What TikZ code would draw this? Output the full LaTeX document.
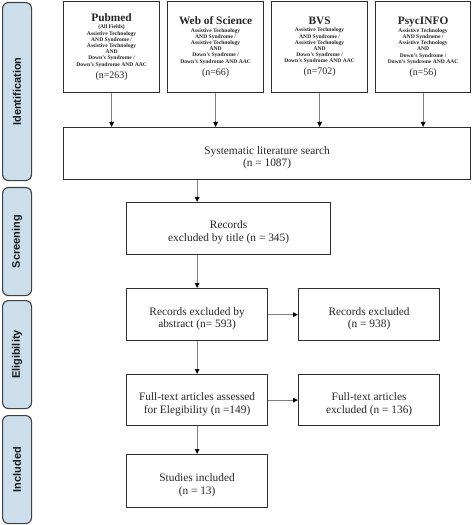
\documentclass[tikz,border=0pt]{standalone}
\usepackage{fontspec}
\setmainfont{Liberation Serif}
\newfontfamily\sidefont{Liberation Sans}
\usetikzlibrary{arrows.meta}
\definecolor{sidefill}{HTML}{CCDEEC}
\definecolor{boxline}{HTML}{2E2E2E}
\definecolor{arrline}{HTML}{808080}
\begin{document}
\begin{tikzpicture}[x=1bp,y=-1bp,
  box/.style={draw=boxline,line width=1.2bp,fill=white,inner sep=1bp,align=center,anchor=north west,
    font=\fontsize{11.4}{12.8}\selectfont,text=black!85},
  dbbox/.style={draw=boxline,line width=1.2bp,fill=white,inner sep=1bp,align=center,anchor=north west,
    font=\bfseries\fontsize{5.6}{6.2}\selectfont,text=black!85},
  side/.style={draw=black!75,line width=1.1bp,fill=sidefill,rounded corners=6bp,anchor=north west,
    minimum width=29bp,inner sep=0pt},
  sidelabel/.style={rotate=90,font=\sidefont\bfseries\fontsize{11}{12}\selectfont,text=black!90},
  arr/.style={draw=arrline,line width=1bp,-{Triangle[color=black,length=5bp,width=4.5bp]}},
]
\useasboundingbox (0,0) rectangle (472,525);
\newcommand{\dbtitle}[1]{{\fontsize{11.4}{12.5}\selectfont #1}\\[1bp]}
\newcommand{\dbcount}[1]{\\[3bp]{\mdseries\fontsize{10}{11}\selectfont #1}}
\newcommand{\lowtext}{\rule{0pt}{16bp}}

% side labels
\node[side,minimum height=178bp] (sid) at (2,2) {};
\node[sidelabel] (sidt) at (sid.center) {Identification};
\node[side,minimum height=108bp] (sscr) at (2,187) {};
\node[sidelabel] (sscrt) at (sscr.center) {Screening};
\node[side,minimum height=108bp] (seli) at (2,300) {};
\node[sidelabel] (selit) at (seli.center) {Eligibility};
\node[side,minimum height=108bp] (sinc) at (2,415) {};
\node[sidelabel] (sinct) at (sinc.center) {Included};

% database boxes
\node[dbbox,minimum width=96bp,minimum height=91bp] (pub) at (63,1)
  {\dbtitle{Pubmed}(All Fields)\\Assistive Technology\\AND Syndrome /\\Assistive Technology\\AND\\Down's Syndrome /\\Down's Syndrome AND AAC\dbcount{(n=263)}};
\node[dbbox,minimum width=96bp,minimum height=91bp] (wos) at (167,1)
  {\dbtitle{Web of Science}Assistive Technology\\AND Syndrome /\\Assistive Technology\\AND\\Down's Syndrome /\\Down's Syndrome AND AAC\dbcount{(n=66)}};
\node[dbbox,minimum width=96bp,minimum height=91bp] (bvs) at (271,1)
  {\dbtitle{BVS}Assistive Technology\\AND Syndrome /\\Assistive Technology\\AND\\Down's Syndrome /\\Down's Syndrome AND AAC\dbcount{(n=702)}};
\node[dbbox,minimum width=95bp,minimum height=91bp] (psy) at (375,1)
  {\dbtitle{PsycINFO}Assistive Technology\\AND Syndrome /\\Assistive Technology\\AND\\Down's Syndrome /\\Down's Syndrome AND AAC\dbcount{(n=56)}};

% flow boxes
\node[box,minimum width=407bp,minimum height=52bp] (sls) at (63,127) {\lowtext Systematic literature search\\(n = 1087)};
\node[box,minimum width=204bp,minimum height=52bp] (rec) at (126,202) {\lowtext Records\\excluded by title (n = 345)};
\node[box,minimum width=141bp,minimum height=52bp] (abs) at (126,288) {\lowtext Records excluded by\\abstract (n= 593)};
\node[box,minimum width=141bp,minimum height=52bp] (exc) at (298,288) {\lowtext Records excluded\\(n = 938)};
\node[box,minimum width=141bp,minimum height=51bp] (ful) at (126,374) {\lowtext Full-text articles assessed\\for Elegibility (n =149)};
\node[box,minimum width=141bp,minimum height=51bp] (fex) at (298,374) {\lowtext Full-text articles\\excluded (n = 136)};
\node[box,minimum width=141bp,minimum height=53bp] (inc) at (126,454) {\lowtext Studies included\\(n = 13)};

% connectors
\draw[arr] (pub.south) -- (pub.south |- sls.north);
\draw[arr] (wos.south) -- (wos.south |- sls.north);
\draw[arr] (bvs.south) -- (bvs.south |- sls.north);
\draw[arr] (psy.south) -- (psy.south |- sls.north);
\draw[arr] (abs.north |- sls.south) -- (abs.north |- rec.north);
\draw[arr] (abs.north |- rec.south) -- (abs.north);
\draw[arr] (abs.east) -- (exc.west);
\draw[arr] (abs.south) -- (ful.north);
\draw[arr] (ful.east) -- (fex.west);
\draw[arr] (ful.south) -- (inc.north);
\end{tikzpicture}
\end{document}
